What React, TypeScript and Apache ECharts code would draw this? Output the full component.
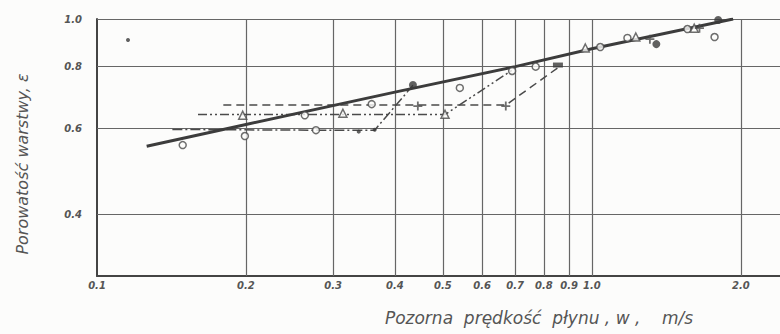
import React, { useEffect, useRef } from "react";
import * as echarts from "echarts";

// ---- data (log-log) ----
const xTicks = [0.1, 0.2, 0.3, 0.4, 0.5, 0.6, 0.7, 0.8, 0.9, 1.0, 2.0];
const yTicks = [0.4, 0.6, 0.8, 1.0];
const xGrid = [0.2, 0.3, 0.4, 0.5, 0.6, 0.7, 0.8, 0.9, 1.0, 2.0];
const yGrid = [0.4, 0.6, 0.8, 1.0];

const mainLine = [
  [0.126, 0.551], [0.2, 0.61], [0.4, 0.71], [0.7, 0.8], [1.0, 0.87], [1.93, 1.0],
];
const dashDotLine = [
  [0.142, 0.596], [0.277, 0.594], [0.364, 0.594], [0.435, 0.733],
];
const dashDotDotLine = [
  [0.16, 0.639], [0.197, 0.639], [0.314, 0.639], [0.505, 0.639], [0.69, 0.787],
];
const dashedLine = [
  [0.18, 0.668], [0.359, 0.668], [0.445, 0.668], [0.67, 0.668], [0.86, 0.8],
];

const openCircles = [
  [0.149, 0.554], [0.199, 0.578], [0.263, 0.637], [0.277, 0.594], [0.359, 0.671],
  [0.541, 0.724], [0.69, 0.784], [0.77, 0.8], [1.04, 0.877], [1.18, 0.915],
  [1.56, 0.954], [1.77, 0.919],
];
const openTriangles = [
  [0.197, 0.637], [0.314, 0.643], [0.505, 0.64], [0.97, 0.873], [1.227, 0.919], [1.61, 0.958],
];
const plusMarks = [
  [0.445, 0.665], [0.67, 0.665], [1.31, 0.91], [1.65, 0.958],
];
const filledDots = [
  [0.435, 0.734], [1.35, 0.889], [1.8, 0.995],
];
const smallDots = [
  [0.364, 0.595], [0.338, 0.59], [0.1155, 0.906],
];
const blockMarks = [[0.854, 0.806]];

const INK = "#4a4a4a";

export default function App() {
  const ref = useRef<HTMLDivElement>(null);
  useEffect(() => {
    if (!ref.current) return;
    const chart = echarts.init(ref.current, undefined, { renderer: "svg" });
    const labelStyle = {
      fontFamily: "DejaVu Sans",
      fontStyle: "italic" as const,
      fontWeight: "bold" as const,
      fontSize: 10,
      color: "#555",
    };
    chart.setOption({
      animation: false,
      backgroundColor: "#fcfcfb",
      grid: { left: 97, right: 0, top: 19, bottom: 58 },
      xAxis: {
        type: "log",
        logBase: 10,
        min: 0.1,
        max: 2.4,
        axisLine: { show: true, lineStyle: { color: "#444", width: 2 } },
        axisTick: { show: false },
        splitLine: { show: false },
        minorSplitLine: { show: false },
        axisLabel: {
          ...labelStyle,
          margin: 4,
          customValues: xTicks,
          formatter: (v: number) => v.toFixed(1),
        },
      },
      yAxis: {
        type: "log",
        logBase: 10,
        min: 0.3,
        max: 1.0,
        axisLine: { show: true, lineStyle: { color: "#444", width: 2 } },
        axisTick: { show: false },
        splitLine: { show: false },
        axisLabel: {
          ...labelStyle,
          margin: 15,
          customValues: yTicks,
          formatter: (v: number) => v.toFixed(1),
        },
      },
      graphic: [
        {
          type: "text",
          x: 22,
          y: 164,
          rotation: Math.PI / 2,
          style: {
            text: "Porowatość warstwy, ε",
            font: "italic 16px 'DejaVu Sans'",
            fill: "#555",
            textAlign: "center",
            textVerticalAlign: "middle",
          },
        },
        {
          type: "text",
          x: 539,
          y: 318,
          style: {
            text: "Pozorna  prędkość  płynu , w ,    m/s",
            font: "italic 17px 'DejaVu Sans'",
            fill: "#555",
            textAlign: "center",
            textVerticalAlign: "middle",
          },
        },
      ],
      series: [
        {
          type: "line",
          data: mainLine,
          symbol: "none",
          lineStyle: { color: "#3c3c3c", width: 3 },
          z: 5,
          markLine: {
            silent: true,
            symbol: ["none", "none"],
            label: { show: false },
            lineStyle: { type: "solid", color: "#666", width: 1.2 },
            data: [
              ...xGrid.map((v) => ({ xAxis: v })),
              ...yGrid.map((v) => ({ yAxis: v })),
            ],
            z: 1,
          },
        },
        {
          type: "line",
          data: dashDotLine,
          symbol: "none",
          lineStyle: { color: INK, width: 1.5, type: [10, 3, 2, 3] },
        },
        {
          type: "line",
          data: dashDotDotLine,
          symbol: "none",
          lineStyle: { color: INK, width: 1.5, type: [9, 3, 2, 3, 2, 3] },
        },
        {
          type: "line",
          data: dashedLine,
          symbol: "none",
          lineStyle: { color: INK, width: 1.5, type: [8, 5] },
        },
        {
          type: "scatter",
          data: openCircles,
          symbol: "circle",
          symbolSize: 7,
          itemStyle: { color: "#fcfcfb", borderColor: INK, borderWidth: 1.5 },
          z: 6,
        },
        {
          type: "scatter",
          data: openTriangles,
          symbol: "triangle",
          symbolSize: 8,
          itemStyle: { color: "#fcfcfb", borderColor: INK, borderWidth: 1.5 },
          z: 6,
        },
        {
          type: "scatter",
          data: plusMarks,
          symbol: "path://M4,0h2v4h4v2h-4v4h-2v-4h-4v-2h4z",
          symbolSize: 9,
          itemStyle: { color: INK },
          z: 6,
        },
        {
          type: "scatter",
          data: filledDots,
          symbol: "circle",
          symbolSize: 8,
          itemStyle: { color: "#3a3a3a" },
          z: 6,
        },
        {
          type: "scatter",
          data: smallDots,
          symbol: "circle",
          symbolSize: 4,
          itemStyle: { color: "#3a3a3a" },
          z: 6,
        },
        {
          type: "scatter",
          data: blockMarks,
          symbol: "rect",
          symbolSize: [10, 5],
          itemStyle: { color: "#3a3a3a" },
          z: 6,
        },
      ],
    });
    return () => chart.dispose();
  }, []);
  return (
    <div
      ref={ref}
      style={{ position: "absolute", left: 0, top: 0, width: 780, height: 334 }}
    />
  );
}
